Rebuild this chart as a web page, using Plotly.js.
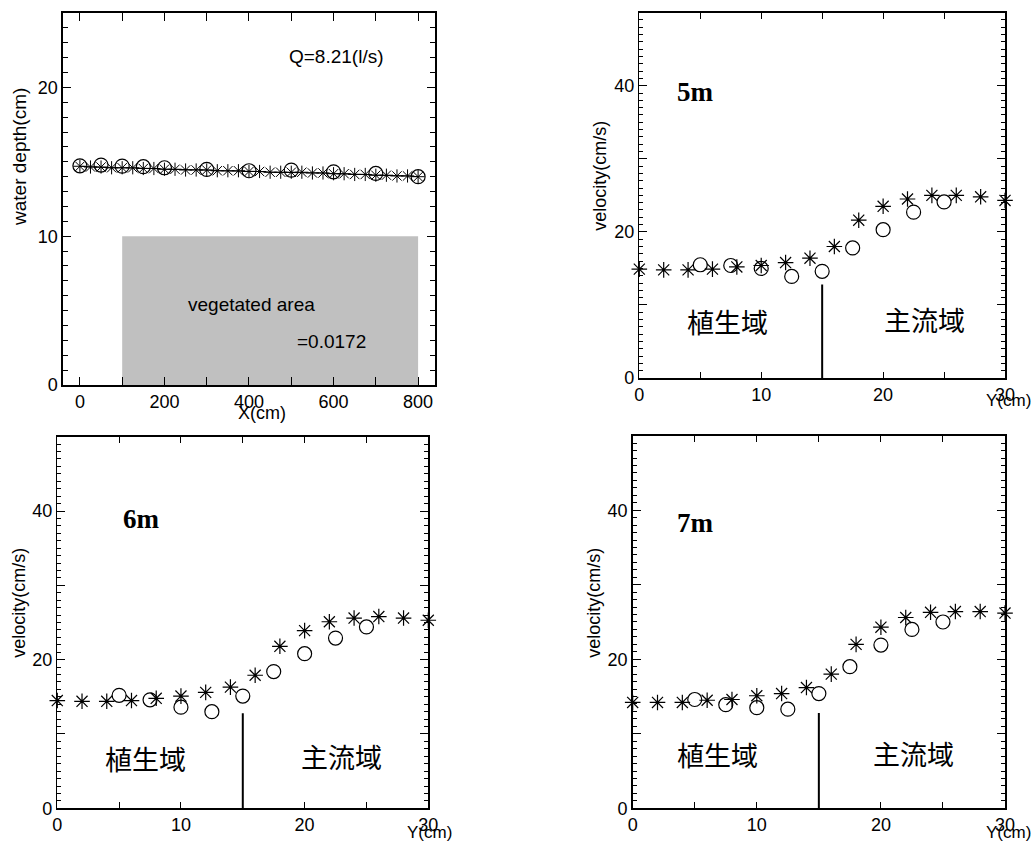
<!DOCTYPE html>
<html>
<head>
<meta charset="utf-8">
<script src="https://cdn.plot.ly/plotly-3.0.1.min.js"></script>
<style>html,body{margin:0;padding:0;background:#fff;}#chart{width:1036px;height:844px;}</style>
</head>
<body>
<div id="chart"></div>
<script>
// ---- water depth panel ----
const depthX = [0,25,50,75,100,125,150,175,200,225,250,275,300,325,350,375,400,425,450,475,500,525,550,575,600,625,650,675,700,725,750,775,800];
const depthCalc = [14.7,14.65,14.65,14.6,14.6,14.6,14.55,14.55,14.5,14.5,14.45,14.45,14.45,14.4,14.4,14.4,14.35,14.35,14.3,14.3,14.3,14.3,14.25,14.25,14.2,14.2,14.15,14.15,14.1,14.1,14.05,14.05,14.0];
const depthObsX = [0,50,100,150,200,300,400,500,600,700,800];
const depthObs = [14.73,14.78,14.71,14.67,14.6,14.49,14.4,14.44,14.33,14.22,14.0];
const vegX = [100,800];
const vegTop = 10;

// ---- velocity panels ----
const yCalc = [0,2,4,6,8,10,12,14,16,18,20,22,24,26,28,30];
const yObs = [5,7.5,10,12.5,15,17.5,20,22.5,25];
const calc5m = [14.9,14.8,14.8,14.9,15.2,15.4,15.8,16.4,18.0,21.6,23.5,24.5,25.0,25.0,24.8,24.3];
const obs5m  = [15.5,15.4,15.0,13.9,14.6,17.8,20.3,22.7,24.1];
const calc6m = [14.5,14.4,14.4,14.5,14.8,15.1,15.6,16.3,17.9,21.8,23.9,25.1,25.6,25.8,25.6,25.3];
const obs6m  = [15.2,14.6,13.6,13.0,15.1,18.4,20.8,22.9,24.4];
const calc7m = [14.2,14.2,14.2,14.5,14.6,15.1,15.4,16.2,18.0,22.0,24.3,25.6,26.3,26.4,26.4,26.2];
const obs7m  = [14.6,13.9,13.5,13.3,15.4,19.0,21.9,24.0,25.0];
const boundaryY = 15;
const boundaryTop = 12.8;
const panelLabels = ['5m','6m','7m'];

const black = '#000';
const tickFont = {family:'Liberation Sans, Arial, sans-serif', size:18, color:black};

function ax(domain, range, extra){
  return Object.assign({
    domain: domain, range: range, showgrid:false, zeroline:false,
    showline:true, linecolor:black, linewidth:1.5, mirror:'ticks',
    ticks:'inside', tickcolor:black, ticklen:8, tickwidth:1,
    tickfont: tickFont, fixedrange:true
  }, extra);
}

const data = [];
// panel 1
data.push({type:'scatter', x:vegX, y:[vegTop,vegTop], fill:'tozeroy', fillcolor:'#c0c0c0', mode:'none', xaxis:'x', yaxis:'y', hoverinfo:'skip'});
data.push({type:'scatter', x:depthX, y:depthCalc, mode:'lines+markers', line:{color:black,width:1},
  marker:{symbol:'asterisk-open', size:11, color:black, line:{color:black,width:1}}, xaxis:'x', yaxis:'y'});
data.push({type:'scatter', x:depthObsX, y:depthObs, mode:'markers',
  marker:{symbol:'circle-open', size:14, color:black, line:{color:black,width:1.2}}, xaxis:'x', yaxis:'y'});

const vel = [[calc5m,obs5m,'x2','y2'],[calc6m,obs6m,'x3','y3'],[calc7m,obs7m,'x4','y4']];
vel.forEach(v=>{
  data.push({type:'scatter', x:yCalc, y:v[0], mode:'markers', cliponaxis:false,
    marker:{symbol:'asterisk-open', size:13, color:black, line:{color:black,width:1.2}}, xaxis:v[2], yaxis:v[3]});
  data.push({type:'scatter', x:yObs, y:v[1], mode:'markers',
    marker:{symbol:'circle-open', size:14, color:black, line:{color:black,width:1.2}}, xaxis:v[2], yaxis:v[3]});
});

const velY = (dom)=>ax(dom,[0,50],{tickvals:[0,10,20,30,40,50], ticktext:['0','','20','','40',''], ticklen:8,
  minor:{dtick:1, ticklen:4, tickcolor:black, ticks:'inside'}});
const velX = (dom)=>ax(dom,[0,30],{tickvals:[0,10,20,30], ticktext:['0','10','20','30'], ticklen:0,
  minor:{dtick:5, ticklen:6, tickcolor:black, ticks:'inside'}});

const layout = {
  width:1036, height:844, margin:{l:0,r:0,t:0,b:0},
  paper_bgcolor:'#fff', plot_bgcolor:'#fff', showlegend:false,
  xaxis: ax([0.0608,0.4199],[-40,840],{tickvals:[0,200,400,600,800], minor:{dtick:100, ticklen:8, tickcolor:black, ticks:'inside'}}),
  yaxis: ax([0.5438,0.9846],[0,25],{tickvals:[0,10,20], minor:{dtick:1, ticklen:5, tickcolor:black, ticks:'inside'}}),
  xaxis2: velX([0.6171,0.9701]), yaxis2: Object.assign(velY([0.5521,0.985]),{anchor:'x2'}),
  xaxis3: velX([0.0553,0.4134]), yaxis3: Object.assign(velY([0.0423,0.4826]),{anchor:'x3'}),
  xaxis4: velX([0.6107,0.9701]), yaxis4: Object.assign(velY([0.0423,0.4838]),{anchor:'x4'}),
  shapes: [],
  annotations: []
};
layout.xaxis2.anchor='y2'; layout.xaxis3.anchor='y3'; layout.xaxis4.anchor='y4';

const sans = 'Liberation Sans, Arial, sans-serif';
const cjk = 'Noto Sans CJK JP, Noto Sans CJK SC, sans-serif';
const serif = 'Liberation Serif, DejaVu Serif, serif';
const A = layout.annotations;
function t(text,x,y,xref,yref,size,family,extra){A.push(Object.assign({text:text,x:x,y:y,xref:xref,yref:yref,showarrow:false,font:{family:family,size:size,color:black},xanchor:'center',yanchor:'middle'},extra||{}));}

// panel 1 texts
t('Q=8.21(l/s)',606,22.1,'x','y',19,sans);
t('vegetated area',405,5.4,'x','y',19,sans);
t('=0.0172',594,2.95,'x','y',19,sans);
t('water depth(cm)',0.0193,0.814,'paper','paper',19,sans,{textangle:-90});
t('X(cm)',0.2529,0.5107,'paper','paper',18,sans);

// velocity panels
const lab = [[4.65,39.2,7.2,7.7,23.4,8.0,'x2','y2',0.579,0.7915,0.973,0.5255],
             [6.8,38.9,7.15,6.7,23.0,6.95,'x3','y3',0.0177,0.2861,0.415,0.0135],
             [5.1,38.3,6.8,7.2,22.65,7.4,'x4','y4',0.5727,0.2861,0.973,0.0135]];
lab.forEach((L,i)=>{
  t('<b>'+panelLabels[i]+'</b>',L[0],L[1],L[6],L[7],27,serif);
  t('植生域',L[2],L[3],L[6],L[7],27,cjk);
  t('主流域',L[4],L[5],L[6],L[7],27,cjk);
  t('velocity(cm/s)',L[8],L[9],'paper','paper',18,sans,{textangle:-90});
  t('Y(cm)',L[10],L[11],'paper','paper',17,sans);
  layout.shapes.push({type:'line',xref:L[6],yref:L[7],x0:boundaryY,x1:boundaryY,y0:0,y1:boundaryTop,line:{color:black,width:2}});
});

Plotly.newPlot('chart', data, layout, {staticPlot:true, displayModeBar:false});
</script>
</body>
</html>
